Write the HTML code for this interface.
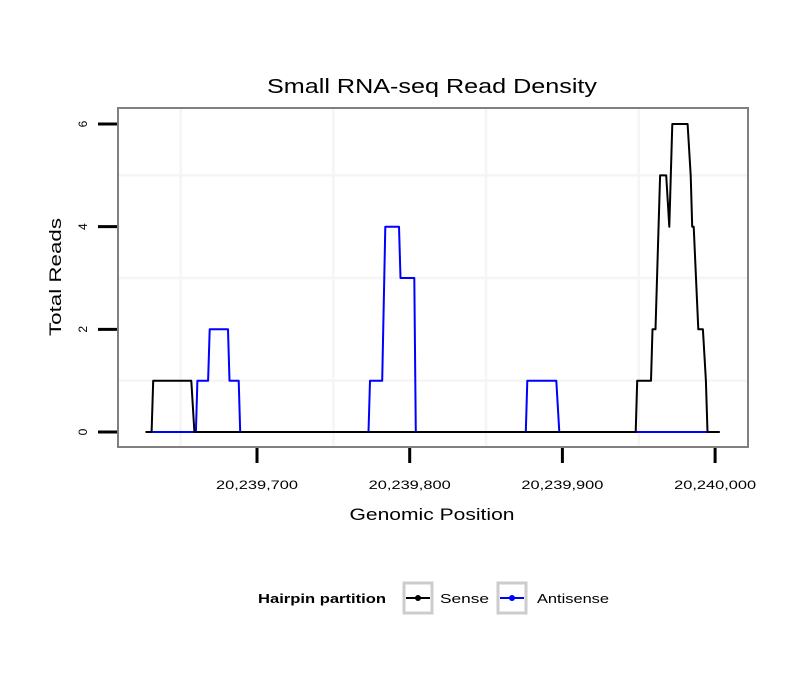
<!DOCTYPE html>
<html><head><meta charset="utf-8"><style>
body{margin:0;background:#fff;font-family:"Liberation Sans",sans-serif}
</style></head><body>
<svg width="810" height="690" xmlns="http://www.w3.org/2000/svg" font-family="Liberation Sans, sans-serif">
<text x="432" y="93" font-size="20" text-anchor="middle" textLength="330" lengthAdjust="spacingAndGlyphs">Small RNA-seq Read Density</text>
<g id="grid"></g>
<g id="series"></g>
<rect x="118" y="108" width="630" height="339" fill="none" stroke="#808080" stroke-width="2"/>
<g id="axes"></g>
<text x="432" y="520" font-size="17" text-anchor="middle" textLength="165" lengthAdjust="spacingAndGlyphs">Genomic Position</text>
<text transform="translate(61,277) rotate(-90)" font-size="17" text-anchor="middle" textLength="118" lengthAdjust="spacingAndGlyphs">Total Reads</text>
<g>
<text x="258" y="603" font-size="13" font-weight="bold" textLength="128" lengthAdjust="spacingAndGlyphs">Hairpin partition</text>
<g>
<rect x="404" y="583" width="28" height="30" fill="#fff" stroke="#ccc" stroke-width="3"/>
<line x1="406" y1="598" x2="430" y2="598" stroke="#000" stroke-width="2"/><circle cx="418" cy="598" r="3" fill="#000"/>
<text x="440" y="603" font-size="13" textLength="49" lengthAdjust="spacingAndGlyphs">Sense</text></g>
<g>
<rect x="498" y="583" width="28" height="30" fill="#fff" stroke="#ccc" stroke-width="3"/>
<line x1="500" y1="598" x2="524" y2="598" stroke="#00f" stroke-width="2"/><circle cx="512" cy="598" r="3" fill="#00f"/>
<text x="537" y="603" font-size="13" textLength="72" lengthAdjust="spacingAndGlyphs">Antisense</text></g>
</g>
</svg>
<script>
const BASE=20239600;
const senseX=[27,31,32,57,59,348,349,358,359,361,364,368,370,372,382,384,385,386,389,392,394,395,403];
const senseY=[0,0,1,1,0,0,1,1,2,2,5,5,4,6,6,5,4,4,2,2,1,0,0];
const antiX=[27,60,61,68,69,81,82,88,89,173,174,182,184,193,194,203,204,276,277,296,298,403];
const antiY=[0,0,1,1,2,2,1,1,0,0,1,1,4,4,3,3,0,0,1,1,0,0];
const xTicks=[20239700,20239800,20239900,20240000];
const xTickLabels=["20,239,700","20,239,800","20,239,900","20,240,000"];
const yTicks=[0,2,4,6];
const ns="http://www.w3.org/2000/svg";
function sx(g){return 257+(g-20239700)*1.527;}
function sy(v){return 432-v*51.33;}
function mk(t,a,p){const e=document.createElementNS(ns,t);for(const k in a)e.setAttribute(k,a[k]);p.appendChild(e);return e;}
const grid=document.getElementById('grid'),axes=document.getElementById('axes'),ser=document.getElementById('series');
for(let g=20239650;g<=20240000;g+=100){const l=mk('line',{x1:sx(g),x2:sx(g),y1:109,y2:446,stroke:'#f5f5f5','stroke-width':2.5},grid);

}
for(let v=1;v<=6;v+=2){const l=mk('line',{x1:119,x2:747,y1:sy(v),y2:sy(v),stroke:'#f5f5f5','stroke-width':2.5},grid);

}
function path(xs,ys,c,name){let d=xs.map((x,i)=>(i?'L':'M')+sx(BASE+x).toFixed(1)+','+sy(ys[i]).toFixed(1)).join('');
const p=mk('path',{d:d,fill:'none',stroke:c,'stroke-width':2,'stroke-linejoin':'round'},ser);

}
path(antiX,antiY,'#00f','antisense-line');
path(senseX,senseY,'#000','sense-line');
xTicks.forEach((g,i)=>{const t=mk('line',{x1:sx(g),x2:sx(g),y1:448,y2:463,stroke:'#000','stroke-width':3},axes);


const l=mk('text',{x:sx(g),y:489,'font-size':12,'text-anchor':'middle',textLength:82,lengthAdjust:'spacingAndGlyphs'},axes);l.textContent=xTickLabels[i];

});
yTicks.forEach(v=>{const t=mk('line',{x1:98,x2:117,y1:sy(v),y2:sy(v),stroke:'#000','stroke-width':3},axes);


const l=mk('text',{transform:`translate(87,${sy(v)}) rotate(-90)`,'font-size':12,'text-anchor':'middle'},axes);l.textContent=v;

});
</script>
</body></html>
